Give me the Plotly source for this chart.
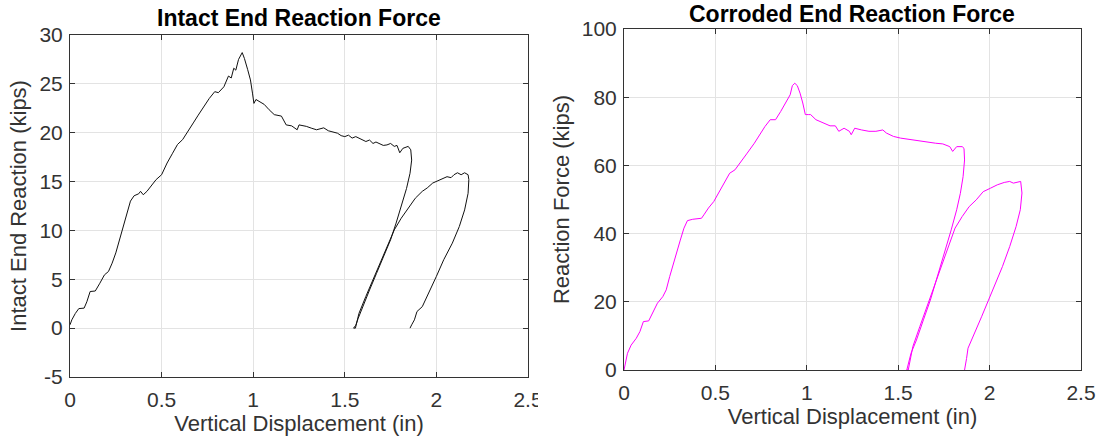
import plotly.graph_objects as go

# Intact end reaction (kips) vs vertical displacement (in)
intact_x = [0, 0.01, 0.029, 0.048, 0.077, 0.092, 0.11, 0.138, 0.163, 0.188, 0.21, 0.23, 0.25, 0.27,
            0.29, 0.31, 0.33, 0.35, 0.375, 0.385, 0.40, 0.42, 0.44, 0.47, 0.50, 0.53, 0.56, 0.587,
            0.615, 0.644, 0.673, 0.70, 0.73, 0.76, 0.79, 0.81, 0.84, 0.865, 0.88, 0.894, 0.905, 0.92,
            0.94, 0.952, 0.97, 0.985, 0.996, 1.004, 1.015, 1.035, 1.06, 1.087, 1.115, 1.154, 1.18,
            1.21, 1.24, 1.25, 1.29, 1.32, 1.346, 1.385, 1.41, 1.43, 1.46, 1.48, 1.5, 1.52, 1.54,
            1.56, 1.577, 1.60, 1.615, 1.635, 1.654, 1.67, 1.69, 1.71, 1.73, 1.75, 1.77, 1.785, 1.80,
            1.817, 1.846, 1.86, 1.865, 1.856, 1.837, 1.808, 1.78, 1.75, 1.71, 1.673, 1.635, 1.596,
            1.573, 1.56, 1.548,
            1.558, 1.567, 1.577, 1.615, 1.654, 1.69, 1.73, 1.77, 1.808, 1.846, 1.885, 1.923, 1.95,
            1.98, 2.02, 2.058, 2.08, 2.096, 2.115, 2.135, 2.154, 2.173, 2.177, 2.173, 2.154, 2.125,
            2.087, 2.04, 2.0, 1.96, 1.923, 1.894, 1.88, 1.865, 1.856]
intact_y = [0.34, 0.85, 1.5, 2.0, 2.05, 2.7, 3.75, 3.8, 4.6, 5.45, 5.8, 6.65, 7.7, 9.05,
            10.4, 11.8, 13.0, 13.55, 13.75, 14.0, 13.65, 14.0, 14.5, 15.2, 15.7, 16.9, 17.9, 18.8,
            19.3, 20.1, 21.0, 21.8, 22.7, 23.5, 24.2, 24.1, 24.7, 25.8, 25.6, 26.6, 26.4, 27.5,
            28.2, 27.6, 26.45, 25.4, 24.05, 23.0, 23.4, 23.2, 22.9, 22.35, 21.85, 21.7, 20.8,
            20.7, 20.3, 20.8, 20.65, 20.45, 20.3, 20.5, 20.2, 20.1, 19.95, 19.7, 19.6, 19.75, 19.45,
            19.6, 19.45, 19.3, 19.1, 19.25, 18.9, 19.05, 18.9, 18.7, 18.75, 18.9, 18.6, 18.7, 17.95,
            18.4, 18.6, 18.25, 17.2, 15.85, 14.3, 12.45, 10.75, 9.05, 7.35, 5.6, 3.9, 2.2,
            1.0, 0.3, 0.0,
            0.0, 0.7, 1.5, 3.25, 4.95, 6.65, 8.36, 10.05, 11.25, 12.3, 13.3, 14.0, 14.35,
            14.85, 15.2, 15.5, 15.4, 15.7, 15.9, 15.7, 15.9, 15.7, 15.2, 13.8, 12.1, 10.4,
            8.7, 7.0, 5.3, 3.6, 2.2, 1.7, 0.85, 0.34, 0.0]

# Corroded end reaction (kips) vs vertical displacement (in)
corroded_x = [0, 0.006, 0.019, 0.039, 0.067, 0.087, 0.106, 0.135, 0.154, 0.183, 0.212, 0.231, 0.25,
              0.27, 0.289, 0.308, 0.328, 0.347, 0.376, 0.405, 0.424, 0.437, 0.462, 0.491, 0.52,
              0.55, 0.578, 0.607, 0.636, 0.674, 0.713, 0.742, 0.771, 0.80, 0.829, 0.857, 0.886,
              0.90, 0.909, 0.921, 0.934, 0.948, 0.963, 0.978, 0.992, 1.008, 1.021, 1.05, 1.089,
              1.127, 1.156, 1.175, 1.204, 1.233, 1.243, 1.262, 1.30, 1.34, 1.378, 1.416, 1.435,
              1.474, 1.513, 1.55, 1.59, 1.628, 1.667, 1.705, 1.744, 1.782, 1.798, 1.82, 1.85, 1.86,
              1.863, 1.855, 1.84, 1.82, 1.79, 1.753, 1.715, 1.676, 1.638, 1.60, 1.57, 1.555, 1.547,
              1.555, 1.566, 1.58, 1.618, 1.657, 1.696, 1.734, 1.773, 1.811, 1.85, 1.888, 1.927,
              1.965, 2.004, 2.042, 2.08, 2.11, 2.13, 2.158, 2.17, 2.177, 2.168, 2.145, 2.11, 2.07,
              2.03, 1.994, 1.956, 1.917, 1.882, 1.874, 1.863]
corroded_y = [0, 1.96, 4.9, 7.3, 9.3, 11.25, 14.2, 14.4, 16.6, 19.6, 21.5, 23.5, 27.4,
              31.3, 34.7, 38.1, 41.6, 43.8, 44.2, 44.5, 44.5, 45.5, 47.5, 49.4, 52.3,
              55.3, 57.7, 58.7, 60.7, 63.6, 66.5, 69.0, 71.4, 73.4, 73.4, 75.8, 78.7,
              79.7, 80.7, 83.4, 84.1, 83.4, 81.2, 78.3, 74.9, 74.9, 74.9, 73.4, 72.4,
              71.6, 71.6, 70.0, 70.9, 70.0, 69.0, 70.9, 70.4, 70.0, 70.0, 70.4, 69.5,
              68.5, 68.0, 67.7, 67.5, 67.0, 66.7, 66.5, 66.3, 65.5, 64.1, 65.5, 65.5, 65.0,
              61.6, 56.7, 51.8, 47.0, 41.1, 34.2, 27.4, 20.5, 14.7, 8.8, 4.9, 1.96, 0,
              0, 2.9, 6.85, 12.7, 18.6, 24.5, 30.3, 36.2, 41.6, 45.0, 47.9, 49.9,
              52.3, 53.3, 54.3, 55.0, 55.3, 54.8, 55.3, 55.3, 51.9, 47.0, 42.1, 36.2, 30.3,
              25.4, 20.5, 15.6, 10.8, 6.4, 3.4, 0]

titles = ["Intact End Reaction Force", "Corroded End Reaction Force"]
x_title = "Vertical Displacement (in)"
y_titles = ["Intact End Reaction (kips)", "Reaction Force (kips)"]
x_ticks = [0, 0.5, 1, 1.5, 2, 2.5]
x_ticklabels = ["0", "0.5", "1", "1.5", "2", "2.5"]
left_y_ticks = [-5, 0, 5, 10, 15, 20, 25, 30]
left_y_ticklabels = ["-5", "0", "5", "10", "15", "20", "25", "30"]
right_y_ticks = [0, 20, 40, 60, 80, 100]
right_y_ticklabels = ["0", "20", "40", "60", "80", "100"]

W, H = 1104, 446


def px(x):
    return x / W


def py(y):
    return 1 - y / H


FONT = "Liberation Sans, Arial, Helvetica, sans-serif"
AX = "#333333"
GRID = "#e3e3e3"
TICK_SIZE = 21
TITLE_SIZE = 22

fig = go.Figure()
fig.add_trace(go.Scatter(x=intact_x, y=intact_y, mode="lines",
                         line=dict(color="#111111", width=1), xaxis="x", yaxis="y",
                         showlegend=False))
fig.add_trace(go.Scatter(x=corroded_x, y=corroded_y, mode="lines",
                         line=dict(color="#ff00ff", width=1), xaxis="x2", yaxis="y2",
                         showlegend=False))


def xa(domain):
    return dict(domain=domain, range=[0, 2.5], tickvals=x_ticks, ticktext=x_ticklabels,
                automargin=False, showline=True, linecolor=AX, linewidth=1, mirror="ticks",
                ticks="inside", ticklen=5, tickcolor=AX, showgrid=True, gridcolor=GRID,
                zeroline=False, ticklabelstandoff=4,
                tickfont=dict(family=FONT, size=TICK_SIZE, color=AX),
                title=dict(text=x_title, font=dict(family=FONT, size=TITLE_SIZE, color=AX),
                           standoff=3))


def ya(domain, rng, ticks, labels, title):
    return dict(domain=domain, range=rng, tickvals=ticks, ticktext=labels, automargin=False,
                showline=True, linecolor=AX, linewidth=1, mirror="ticks", ticks="inside",
                ticklen=5, tickcolor=AX, showgrid=True, gridcolor=GRID, zeroline=False,
                ticklabelstandoff=2,
                tickfont=dict(family=FONT, size=TICK_SIZE, color=AX),
                title=dict(text=title, font=dict(family=FONT, size=TITLE_SIZE, color=AX),
                           standoff=6))


fig.update_layout(
    width=W, height=H, margin=dict(l=0, r=0, t=0, b=0, autoexpand=False),
    paper_bgcolor="white", plot_bgcolor="white",
    xaxis=xa([px(70), px(528)]),
    yaxis=ya([py(377), py(35)], [-5, 30], left_y_ticks, left_y_ticklabels, y_titles[0]),
    xaxis2=xa([px(624), px(1081)]) | dict(anchor="y2"),
    yaxis2=ya([py(370), py(29)], [0, 100], right_y_ticks, right_y_ticklabels, y_titles[1])
    | dict(anchor="x2"),
    annotations=[
        dict(text="<b>%s</b>" % titles[0], x=px(299), y=py(18), xref="paper", yref="paper",
             showarrow=False, font=dict(family=FONT, size=23, color="#000000"),
             xanchor="center", yanchor="middle"),
        dict(text="<b>%s</b>" % titles[1], x=px(852), y=py(14), xref="paper", yref="paper",
             showarrow=False, font=dict(family=FONT, size=23, color="#000000"),
             xanchor="center", yanchor="middle"),
    ],
    shapes=[dict(type="rect", xref="paper", yref="paper", x0=px(538), x1=px(560),
                 y0=py(412), y1=py(384), fillcolor="white", line=dict(width=0),
                 layer="above")],
)
fig.write_html("out.html", config={"displayModeBar": False},
               post_script="document.body.style.margin='0';document.body.style.padding='0';"
                           "document.documentElement.style.overflow='hidden';")
